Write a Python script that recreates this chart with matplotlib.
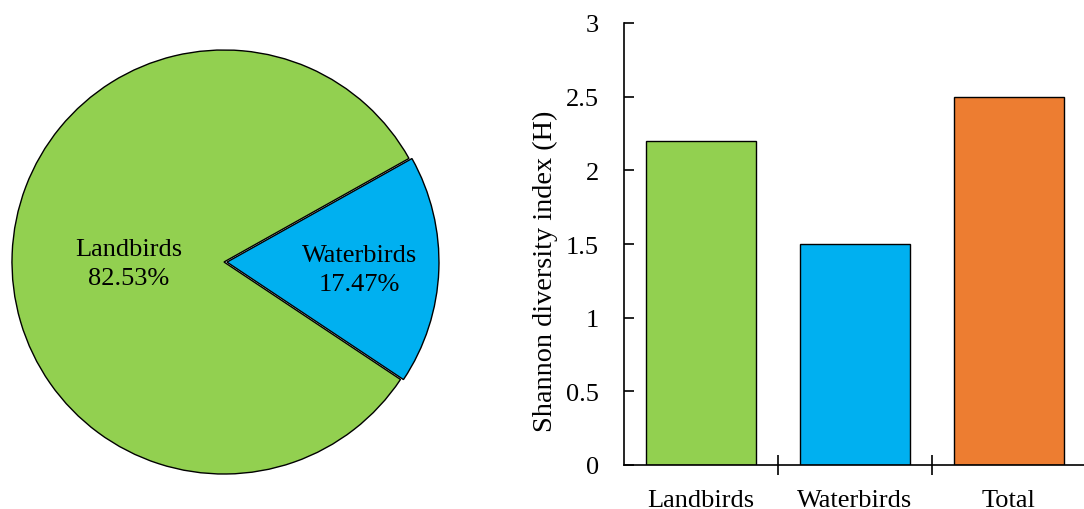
import numpy as np
import matplotlib.pyplot as plt
from matplotlib.ticker import FixedLocator

plt.rcParams['font.family'] = 'serif'
plt.rcParams['font.serif'] = ['Liberation Serif', 'DejaVu Serif']

# share of individuals by group
groups = ['Landbirds', 'Waterbirds']
shares = [82.53, 17.47]
pie_colors = ['#92D050', '#00B0F0']

# Shannon index per group
bar_labels = ['Landbirds', 'Waterbirds', 'Total']
shannon = [2.2, 1.5, 2.5]
bar_colors = ['#92D050', '#00B0F0', '#ED7D31']

fsize = 19
W, H = 1084, 510
fig = plt.figure(figsize=(W / 100, H / 100), dpi=100)

# pie on the left
r_px = 212
cx, cy = 224, 263
ax1 = fig.add_axes([(cx - r_px) / W, (H - cy - r_px) / H, 2 * r_px / W, 2 * r_px / H])
start = 360 * shares[1] / 200 - 2.2
wedges, _ = ax1.pie(shares, colors=pie_colors, startangle=start, explode=[0, 0.014],
                    wedgeprops=dict(edgecolor='black', linewidth=1.0))
ax1.set_xlim(-1, 1)
ax1.set_ylim(-1, 1)
ax1.set_aspect('equal')
label_r = [0.45, 0.64]
label_dy = [-0.024, -0.01]
for w, name, val, rr, dy in zip(wedges, groups, shares, label_r, label_dy):
    ang = np.deg2rad((w.theta1 + w.theta2) / 2)
    ax1.text(rr * np.cos(ang), rr * np.sin(ang) + dy, f'{name}\n{val:.2f}%',
             ha='center', va='center', fontsize=fsize, linespacing=1.38)

# bars on the right
x0, x1, yb, yt = 624, 1086, 466, 24
ax2 = fig.add_axes([x0 / W, (H - yb) / H, (x1 - x0) / W, (yb - yt) / H])
pos = np.arange(len(bar_labels))
ax2.bar(pos, shannon, width=0.71, color=bar_colors, edgecolor='black', linewidth=1.0)
ax2.set_xlim(-0.5, len(bar_labels) - 0.5)
ax2.set_ylim(0, 3)
ax2.set_yticks([0, 0.5, 1, 1.5, 2, 2.5, 3])
ax2.set_yticklabels(['0', '0.5', '1', '1.5', '2', '2.5', '3'])
ax2.set_xticks(pos)
ax2.set_xticklabels(bar_labels)
ax2.xaxis.set_minor_locator(FixedLocator(pos[:-1] + 0.5))
ax2.tick_params(axis='x', which='major', length=0, pad=17, labelsize=fsize)
ax2.tick_params(axis='x', which='minor', direction='inout', length=14, width=1.2)
ax2.tick_params(axis='y', direction='in', length=7, width=1.2, pad=18, labelsize=fsize)
for s in ['top', 'right']:
    ax2.spines[s].set_visible(False)
for s in ['left', 'bottom']:
    ax2.spines[s].set_linewidth(1.2)
ax2.set_ylabel('Shannon diversity index (H)', fontsize=20.3)
ax2.yaxis.set_label_coords(-0.142, 0.44)

fig.savefig('out.png', dpi=100)
